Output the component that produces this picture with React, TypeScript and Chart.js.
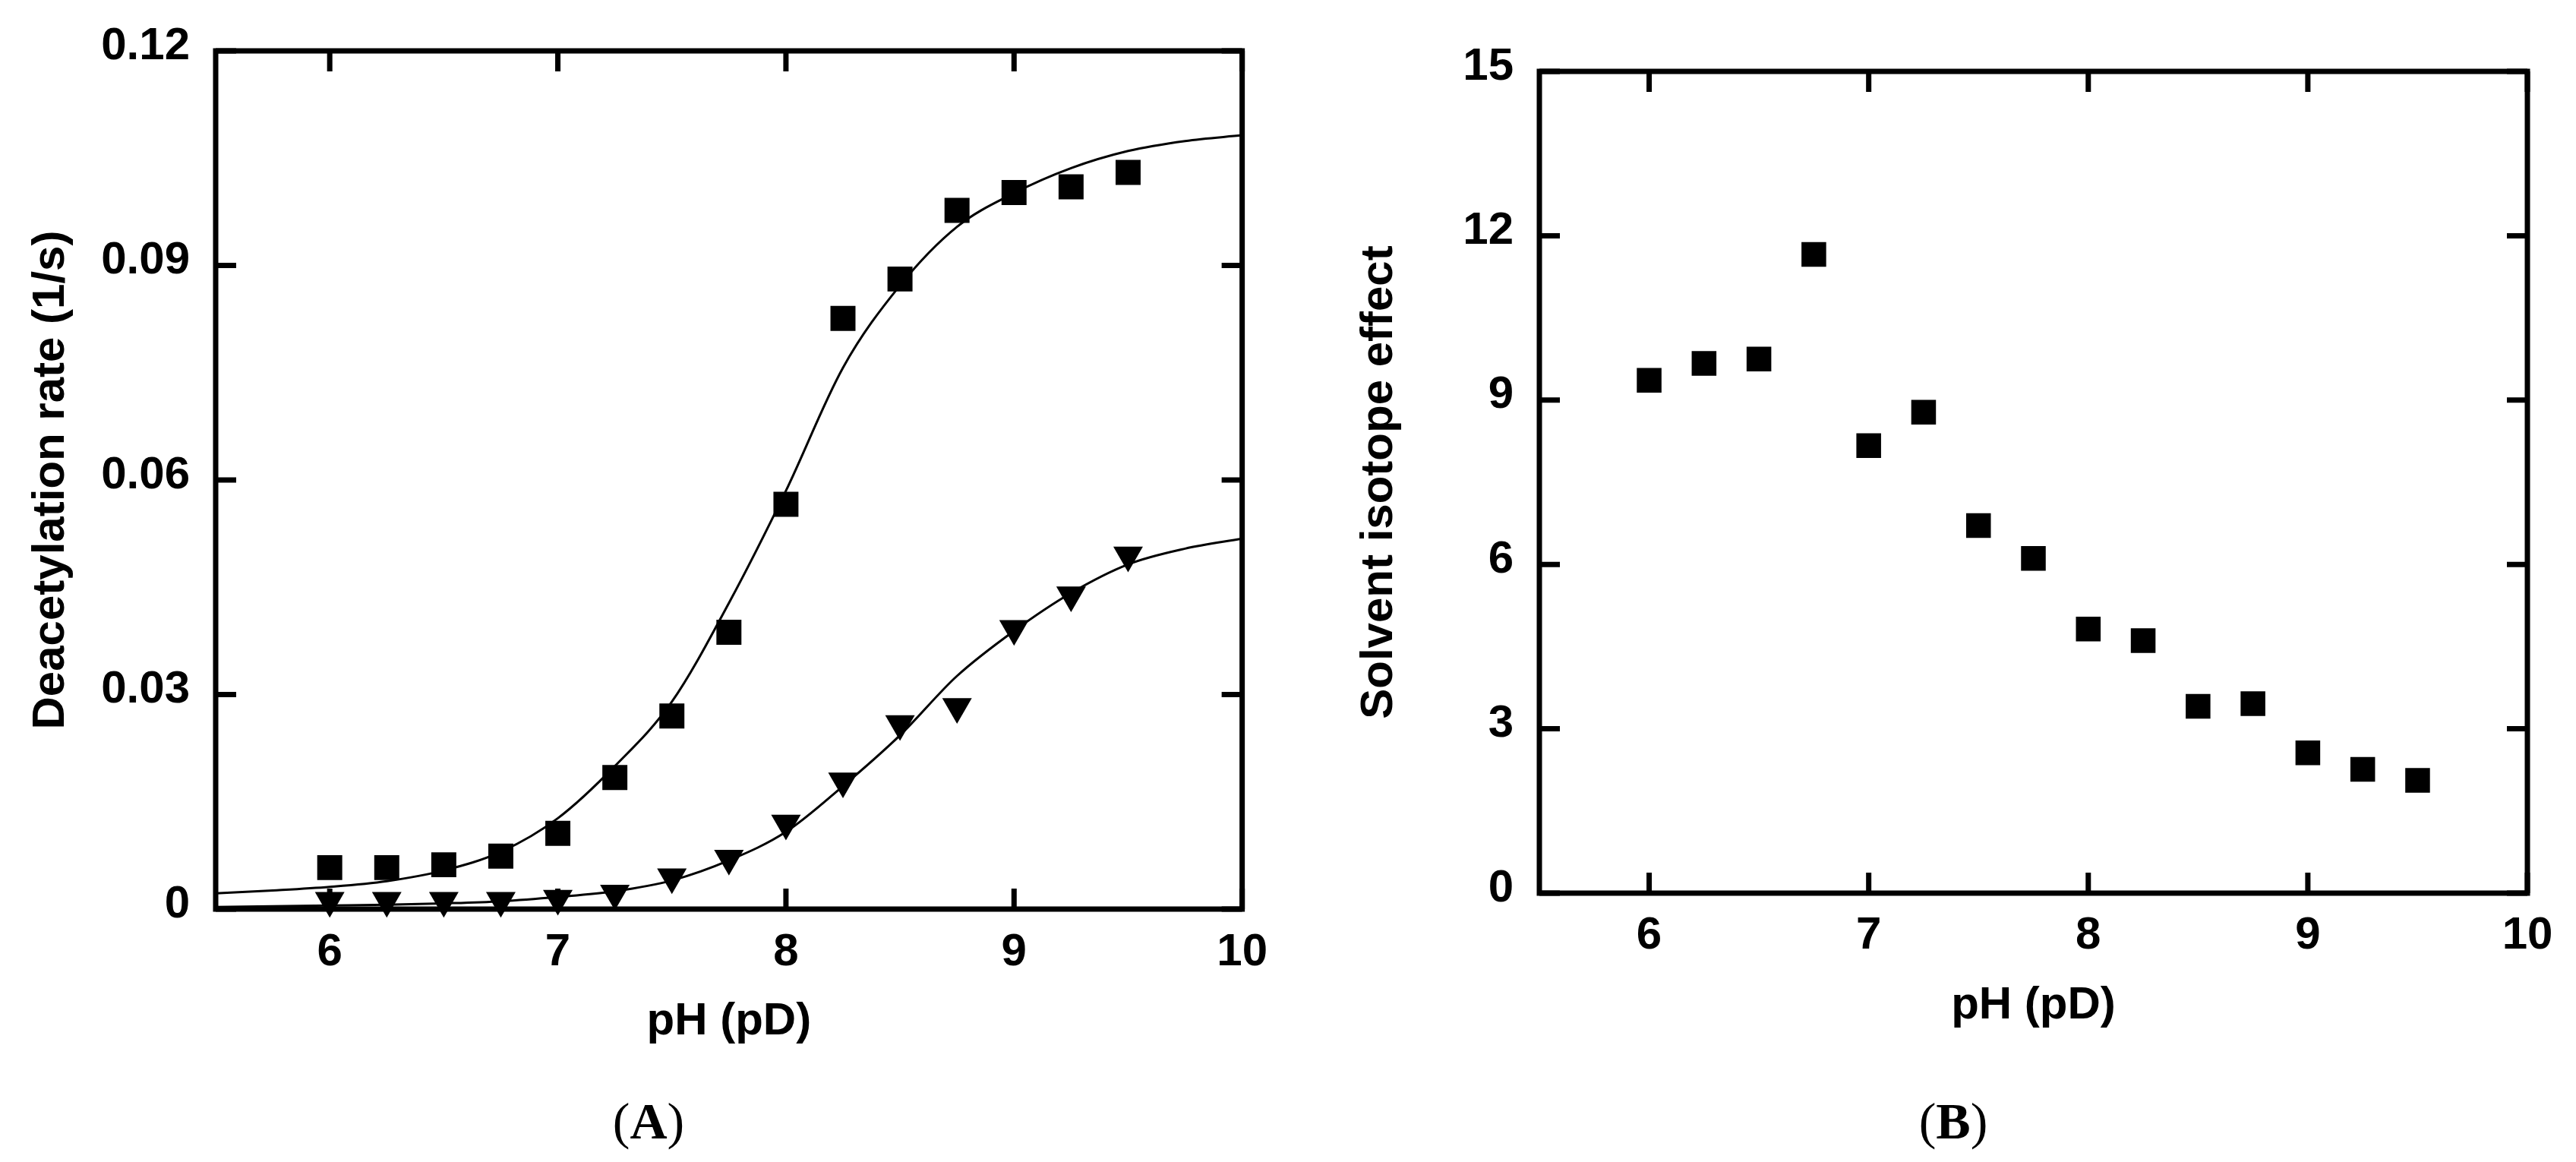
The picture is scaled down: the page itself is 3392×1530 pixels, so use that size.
import Chart from "chart.js/auto";
import React, { useEffect, useRef } from "react";

// pH (pD) of the measurements, shared by both panels
const pHValues = [6, 6.25, 6.5, 6.75, 7, 7.25, 7.5, 7.75, 8, 8.25, 8.5, 8.75, 9, 9.25, 9.5];
// Panel A: deacetylation rate (1/s), squares and triangles
const rateSquares = [0.0058, 0.0058, 0.0062, 0.0074, 0.0106, 0.0184, 0.027, 0.0387, 0.0566, 0.0826, 0.0881, 0.0977, 0.1002, 0.101, 0.103];
const rateTriangles = [0.0012, 0.0012, 0.0012, 0.0012, 0.0015, 0.0022, 0.0045, 0.0071, 0.012, 0.0179, 0.0259, 0.0283, 0.0392, 0.0439, 0.0495];
// Panel A: fitted curves
const fitPH = [5.5, 5.75, 6, 6.25, 6.5, 6.75, 7, 7.25, 7.5, 7.75, 8, 8.25, 8.5, 8.75, 9, 9.25, 9.5, 9.75, 10];
const fitSquares = [0.0022, 0.0026, 0.0031, 0.0039, 0.0054, 0.008, 0.0127, 0.02, 0.029, 0.0428, 0.0585, 0.0757, 0.0872, 0.0954, 0.1001, 0.1036, 0.106, 0.1074, 0.1082];
const fitTriangles = [0.0003, 0.0004, 0.0005, 0.0006, 0.0008, 0.0011, 0.0017, 0.0025, 0.004, 0.0068, 0.0108, 0.0172, 0.0243, 0.0326, 0.0389, 0.0442, 0.0482, 0.0504, 0.0518];
// Panel B: solvent isotope effect
const isotopeEffect = [9.36, 9.67, 9.75, 11.66, 8.17, 8.78, 6.71, 6.11, 4.82, 4.61, 3.41, 3.46, 2.56, 2.26, 2.06];

// tick labels
const pHTicks = [6, 7, 8, 9, 10];
const rateTicks = [0, 0.03, 0.06, 0.09, 0.12];
const isotopeTicks = [0, 3, 6, 9, 12, 15];

const SANS = "'Liberation Sans', Arial, Helvetica, sans-serif";
const axisFont = { family: SANS, size: 60, weight: "bold" as const, lineHeight: 1 };

const toPoints = (xs: number[], ys: number[]) => xs.map((x, i) => ({ x, y: ys[i] }));

// draws the heavy frame and the inward tick marks on all four sides
const frameTicks = {
    id: "frameTicks",
    afterDraw(chart: any) {
        const { ctx, chartArea } = chart;
        const { left, right, top, bottom } = chartArea;
        const x = chart.scales.x;
        const y = chart.scales.y;
        const len = 27;
        ctx.save();
        ctx.strokeStyle = "#000";
        ctx.lineWidth = 7;
        ctx.beginPath();
        x.ticks.forEach((t: any) => {
            const px = x.getPixelForValue(t.value);
            ctx.moveTo(px, top);
            ctx.lineTo(px, top + len);
            ctx.moveTo(px, bottom);
            ctx.lineTo(px, bottom - len);
        });
        y.ticks.forEach((t: any) => {
            const py = y.getPixelForValue(t.value);
            ctx.moveTo(left, py);
            ctx.lineTo(left + len, py);
            ctx.moveTo(right, py);
            ctx.lineTo(right - len, py);
        });
        ctx.stroke();
        ctx.strokeRect(left, top, right - left, bottom - top);
        ctx.restore();
    },
};

interface PanelBox {
    yWidth: number;
    xHeight: number;
    top: number;
    right: number;
    xTickPad: number;
    xTitleGap: number;
    yTitleGap: number;
}

interface PanelProps {
    datasets: any[];
    yTicks: number[];
    yMax: number;
    yTitle: string;
    yLabel: (v: number) => string;
    box: PanelBox;
    left: number;
}

const Panel: React.FC<PanelProps> = ({ datasets, yTicks, yMax, yTitle, yLabel, box, left }) => {
    const chartRef = useRef<HTMLCanvasElement | null>(null);
    const chartInstance = useRef<Chart | null>(null);

    useEffect(() => {
        if (!chartRef.current) return;
        chartInstance.current = new Chart(chartRef.current, {
            type: "scatter",
            data: { datasets },
            options: {
                animation: false,
                responsive: true,
                maintainAspectRatio: false,
                layout: { padding: { left: 0, right: box.right, top: box.top, bottom: 0 } },
                plugins: { legend: { display: false }, tooltip: { enabled: false } },
                scales: {
                    x: {
                        type: "linear",
                        min: 5.5,
                        max: 10,
                        afterBuildTicks: (s: any) => {
                            s.ticks = pHTicks.map((value) => ({ value }));
                        },
                        afterFit: (s: any) => {
                            s.height = box.xHeight;
                        },
                        grid: { display: false, drawTicks: false },
                        border: { display: false },
                        ticks: {
                            color: "#000",
                            font: axisFont,
                            padding: box.xTickPad,
                            autoSkip: false,
                            maxRotation: 0,
                            callback: (v: any) => String(v),
                        },
                        title: {
                            display: true,
                            text: "pH (pD)",
                            color: "#000",
                            font: axisFont,
                            padding: { top: 0, bottom: box.xTitleGap },
                        },
                    },
                    y: {
                        type: "linear",
                        min: 0,
                        max: yMax,
                        afterBuildTicks: (s: any) => {
                            s.ticks = yTicks.map((value) => ({ value }));
                        },
                        afterFit: (s: any) => {
                            s.width = box.yWidth;
                        },
                        grid: { display: false, drawTicks: false },
                        border: { display: false },
                        ticks: {
                            color: "#000",
                            font: axisFont,
                            padding: 34,
                            labelOffset: -6,
                            autoSkip: false,
                            callback: (v: any) => yLabel(Number(v)),
                        },
                        title: {
                            display: true,
                            text: yTitle,
                            color: "#000",
                            font: axisFont,
                            padding: { top: box.yTitleGap, bottom: 0 },
                        },
                    },
                },
            },
            plugins: [frameTicks],
        } as any);

        return () => {
            if (chartInstance.current) {
                chartInstance.current.destroy();
                chartInstance.current = null;
            }
        };
    }, []);

    return (
        <div style={{ position: "absolute", left, top: 0, width: 1696, height: 1530 }}>
            <canvas ref={chartRef}></canvas>
        </div>
    );
};

const markers = (data: { x: number; y: number }[], style: string, radius: number, rotation = 0) => ({
    data,
    showLine: false,
    pointStyle: style,
    pointRadius: radius,
    pointHoverRadius: radius,
    pointRotation: rotation,
    pointBackgroundColor: "#000",
    pointBorderColor: "#000",
    pointBorderWidth: 0,
    clip: false,
});

const fitLine = (data: { x: number; y: number }[]) => ({
    data,
    showLine: true,
    borderColor: "#000",
    borderWidth: 3,
    cubicInterpolationMode: "monotone",
    pointRadius: 0,
    pointHoverRadius: 0,
    clip: false,
});

const captionStyle = (x: number): React.CSSProperties => ({
    position: "absolute",
    left: x,
    top: 1442,
    transform: "translateX(-50%)",
    fontFamily: "'Liberation Serif', 'Times New Roman', serif",
    fontSize: 68,
    lineHeight: "68px",
    whiteSpace: "nowrap",
    color: "#000",
});

const App: React.FC = () => {
    const rateDatasets = [
        fitLine(toPoints(fitPH, fitSquares)),
        fitLine(toPoints(fitPH, fitTriangles)),
        markers(toPoints(pHValues, rateSquares), "rect", 23.3),
        markers(toPoints(pHValues, rateTriangles), "triangle", 22.5, 180),
    ];
    const isotopeDatasets = [markers(toPoints(pHValues, isotopeEffect), "rect", 23)];

    return (
        <div style={{ position: "fixed", left: 0, top: 0, width: 3392, height: 1530, background: "#fff" }}>
            <Panel
                left={0}
                datasets={rateDatasets}
                yTicks={rateTicks}
                yMax={0.12}
                yTitle="Deacetylation rate (1/s)"
                yLabel={(v) => (v === 0 ? "0" : v.toFixed(2))}
                box={{ yWidth: 284, xHeight: 333, top: 67, right: 54, xTickPad: 27, xTitleGap: 155, yTitleGap: 37 }}
            />
            <Panel
                left={1696}
                datasets={isotopeDatasets}
                yTicks={isotopeTicks}
                yMax={15}
                yTitle="Solvent isotope effect"
                yLabel={(v) => String(v)}
                box={{ yWidth: 331, xHeight: 354, top: 94, right: 64, xTickPad: 26, xTitleGap: 176, yTitleGap: 90 }}
            />
            <div style={captionStyle(854)}>
                (<b>A</b>)
            </div>
            <div style={captionStyle(2572)}>
                (<b>B</b>)
            </div>
        </div>
    );
};

export default App;
